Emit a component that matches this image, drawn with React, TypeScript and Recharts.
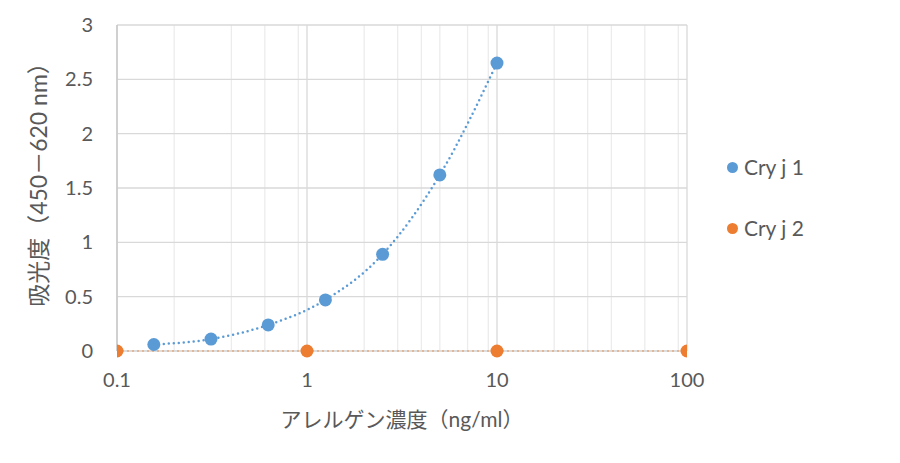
import React from 'react';
import {
  ComposedChart,
  Line,
  Scatter,
  XAxis,
  YAxis,
  CartesianGrid,
} from 'recharts';

// concentrations (ng/ml) and absorbance
const cryj1X = [0.15625, 0.3125, 0.625, 1.25, 2.5, 5, 10];
const cryj1Y = [0.06, 0.11, 0.24, 0.47, 0.89, 1.62, 2.65];
const cryj2X = [0.1, 1, 10, 100];
const cryj2Y = [0, 0, 0, 0];

const seriesNames = ['Cry j 1', 'Cry j 2'];
const xTicks = [0.1, 1, 10, 100];
const yTicks = [0, 0.5, 1, 1.5, 2, 2.5, 3];
const minorX = [
  0.2, 0.3, 0.4, 0.5, 0.6, 0.7, 0.8, 0.9,
  2, 3, 4, 5, 6, 7, 8, 9,
  20, 30, 40, 50, 60, 70, 80, 90,
];

const BLUE = '#5B9BD5';
const ORANGE = '#ED7D31';
const TEXT = '#595959';
const FONT = "Lato, 'Noto Sans CJK JP', sans-serif";

const data1 = cryj1X.map((x, i) => ({ x, y: cryj1Y[i] }));
const data2 = cryj2X.map((x, i) => ({ x, y: cryj2Y[i] }));

const App: React.FC = () => {
  return (
    <div
      style={{
        position: 'absolute',
        left: 0,
        top: 0,
        width: 900,
        height: 463,
        background: '#fff',
        fontFamily: FONT,
      }}
    >
      <ComposedChart
        width={900}
        height={463}
        margin={{ top: 25, right: 213, bottom: 32, left: 0 }}
      >
        <CartesianGrid
          horizontal={false}
          verticalValues={minorX}
          stroke="#ececec"
          strokeWidth={1.3}
        />
        <CartesianGrid
          verticalValues={xTicks}
          stroke="#d9d9d9"
          strokeWidth={1.3}
        />
        <XAxis
          dataKey="x"
          type="number"
          scale="log"
          domain={[0.1, 100]}
          ticks={xTicks}
          allowDataOverflow
          height={80}
          tickLine={false}
          tickSize={0}
          tickMargin={22}
          axisLine={{ stroke: '#d9d9d9' }}
          tick={{ fill: TEXT, fontSize: 20, fontFamily: FONT }}
          label={{
            value: 'アレルゲン濃度（ng/ml）',
            position: 'insideBottom',
            offset: 4,
            fill: TEXT,
            fontSize: 21,
            fontFamily: FONT,
          }}
        />
        <YAxis
          dataKey="y"
          type="number"
          domain={[0, 3]}
          ticks={yTicks}
          width={117}
          tickLine={false}
          tickSize={0}
          tickMargin={24}
          axisLine={{ stroke: '#c8c8c8', strokeWidth: 1.5 }}
          tick={{ fill: TEXT, fontSize: 20, fontFamily: FONT }}
          label={{
            value: '吸光度（450－620 nm）',
            angle: -90,
            position: 'center',
            dx: -20,
            dy: -9,
            fill: TEXT,
            fontSize: 23,
            fontFamily: FONT,
          }}
        />
        <Line
          data={data2}
          dataKey="y"
          type="linear"
          stroke={ORANGE}
          strokeWidth={1.5}
          strokeDasharray="2 3"
          dot={false}
          activeDot={false}
          isAnimationActive={false}
          legendType="none"
        />
        <Line
          data={data1}
          dataKey="y"
          type="monotone"
          stroke={BLUE}
          strokeWidth={2.5}
          strokeLinecap="round"
          strokeDasharray="0 5"
          dot={false}
          activeDot={false}
          isAnimationActive={false}
          legendType="none"
        />
        <Scatter
          name={seriesNames[0]}
          data={data1}
          fill={BLUE}
          shape={(p: any) => <circle cx={p.cx} cy={p.cy} r={6.5} fill={BLUE} />}
          isAnimationActive={false}
        />
        <Scatter
          name={seriesNames[1]}
          data={data2}
          fill={ORANGE}
          shape={(p: any) => <circle cx={p.cx} cy={p.cy} r={6.5} fill={ORANGE} />}
          isAnimationActive={false}
        />
      </ComposedChart>
      {seriesNames.map((name, i) => (
        <div
          key={name}
          style={{
            position: 'absolute',
            left: 727,
            top: 154 + i * 61,
            display: 'flex',
            alignItems: 'center',
            fontSize: 21,
            color: TEXT,
            lineHeight: '26px',
          }}
        >
          <span
            style={{
              display: 'inline-block',
              width: 11,
              height: 11,
              borderRadius: '50%',
              background: i === 0 ? BLUE : ORANGE,
              marginRight: 6,
            }}
          />
          {name}
        </div>
      ))}
    </div>
  );
};

export default App;
